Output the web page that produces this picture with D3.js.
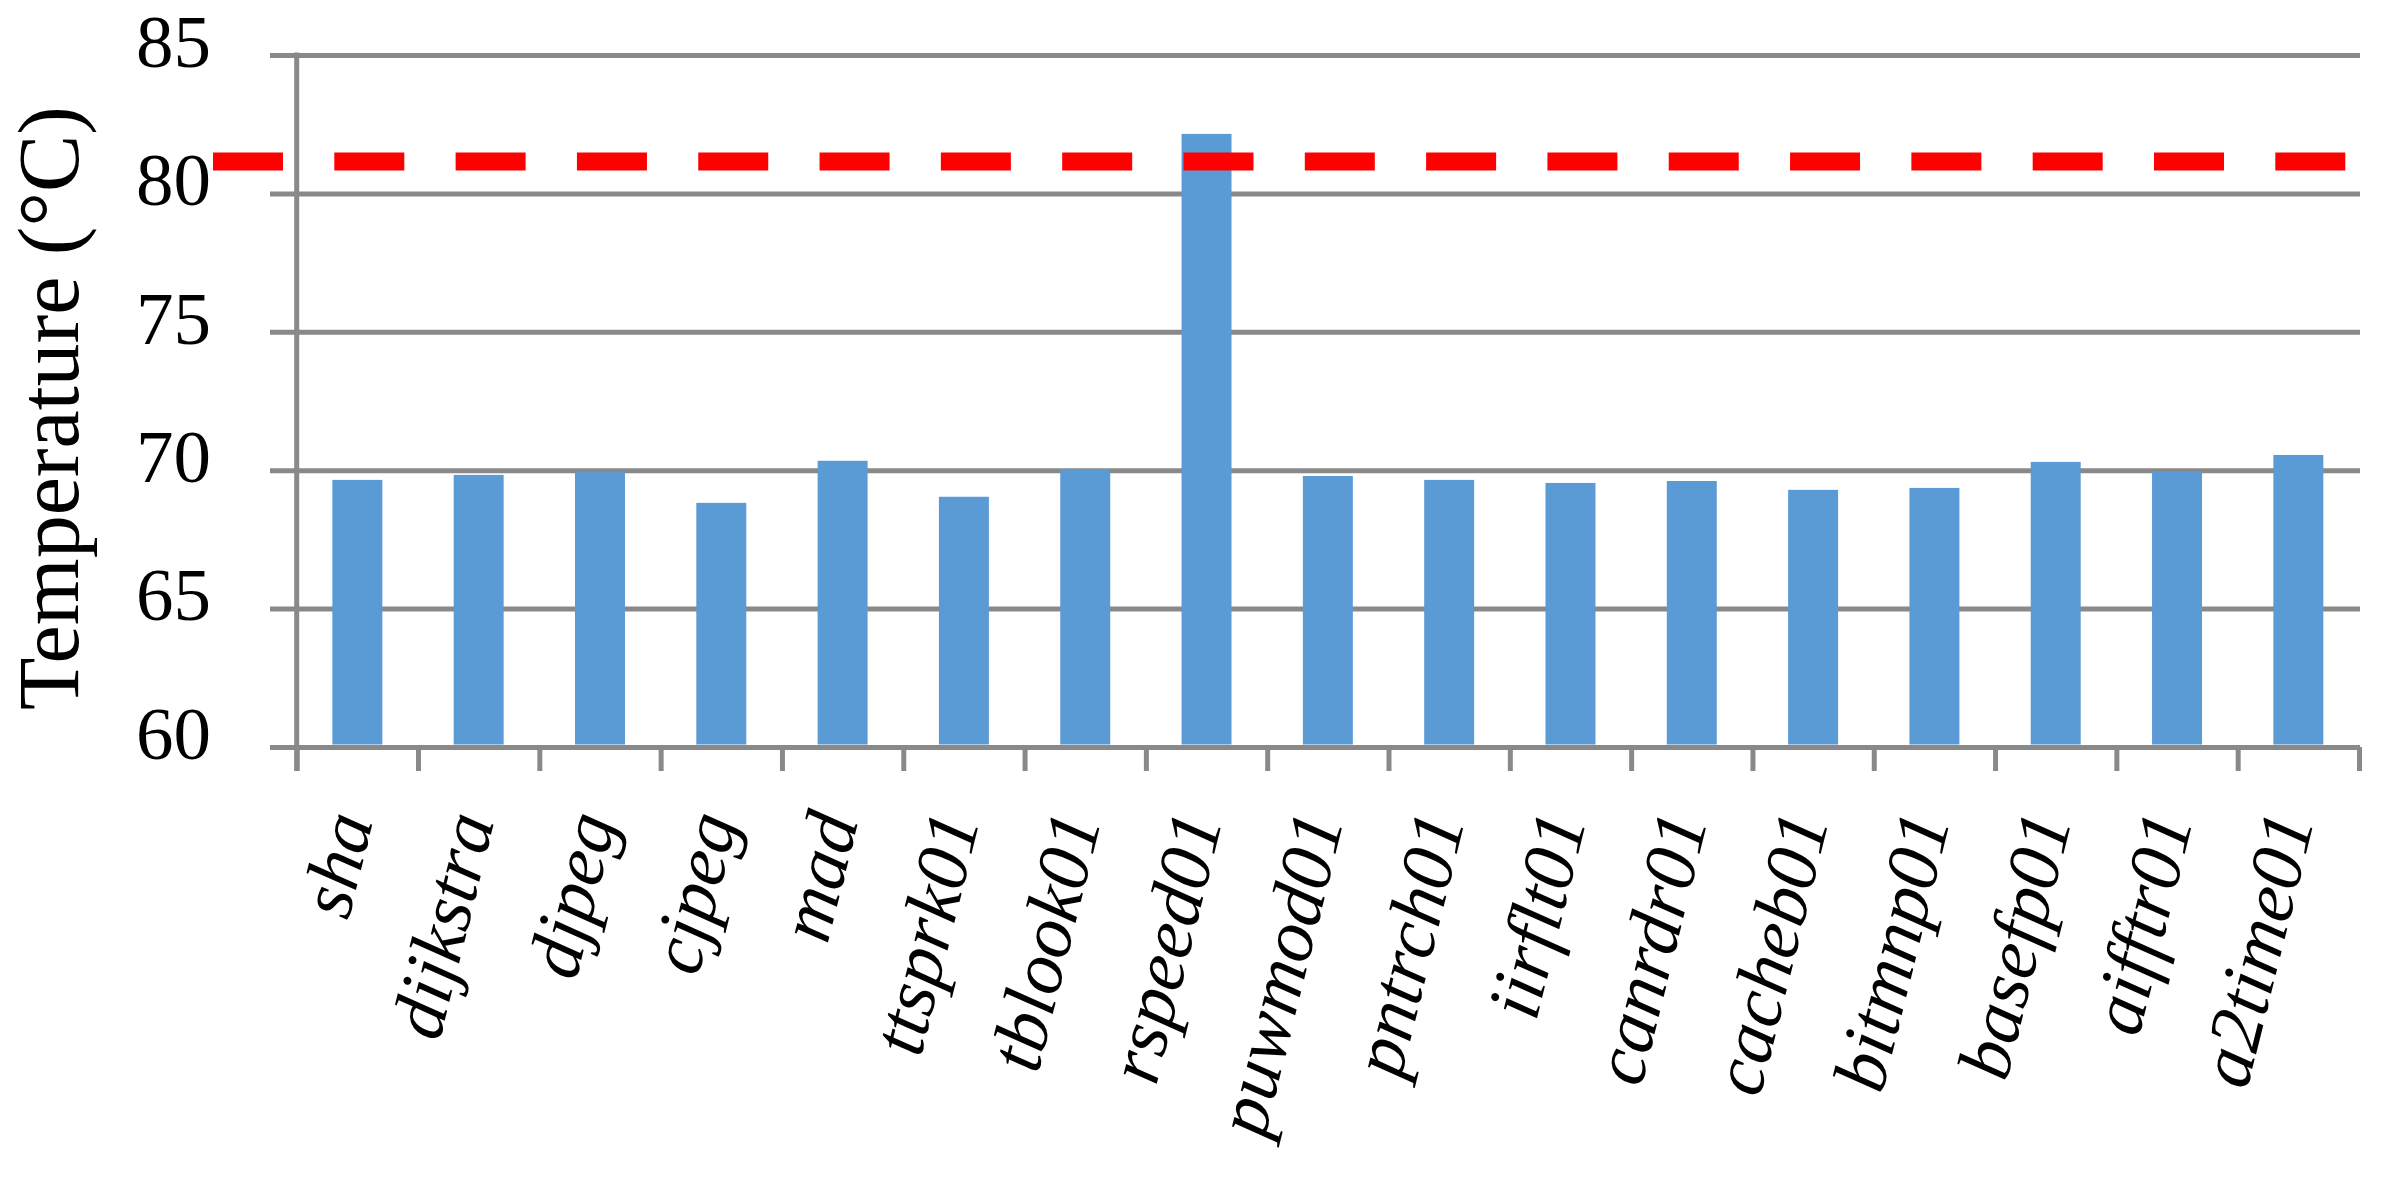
<!DOCTYPE html>
<html>
<head>
<meta charset="utf-8">
<script src="https://cdn.jsdelivr.net/npm/d3@7"></script>
<style>
    body { margin: 0; background: #ffffff; }
    text { font-family: "Liberation Serif", "Times New Roman", serif; fill: #000; font-variant-ligatures: none; }
</style>
</head>
<body>
<script>
// benchmark names (x categories):
var benchmarks = ["sha", "dijkstra", "djpeg", "cjpeg", "mad", "ttsprk01", "tblook01", "rspeed01",
    "puwmod01", "pntrch01", "iirflt01", "canrdr01", "cacheb01", "bitmnp01", "basefp01", "aifftr01", "a2time01"];

// peak temperature per benchmark (°C):
var temps = [69.65, 69.83, 69.93, 68.82, 70.34, 69.04, 70.04, 82.15,
    69.79, 69.65, 69.54, 69.61, 69.29, 69.36, 70.30, 69.96, 70.55];

// y-axis tick labels:
var yTicks = [60, 65, 70, 75, 80, 85];

// thermal limit (red dashed line):
var threshold = [81.15];

window.onload = function(){

    // SVG dimensions:
    var w = 2391, h = 1187;

    // plot edges:
    var left = 296.7, right = 2359, top = 55, bottom = 747;

    var container = d3.select("body")
        .append("svg")
        .attr("width", w)
        .attr("height", h);

    // y scale - temperature:
    var y = d3.scaleLinear()
        .domain([60, 85])
        .range([bottom, top]);

    // x scale - one band per benchmark:
    var x = d3.scaleBand()
        .domain(benchmarks)
        .range([left, right])
        .padding(0);

    // band edges for the tick marks:
    var edges = d3.scaleLinear()
        .domain([0, benchmarks.length])
        .range([left, right]);

    var gridColor = "#898989";

    // y axis w/ gridlines:
    var yAxis = d3.axisLeft(y)
        .tickValues(yTicks)
        .tickSize(-(2360 - 270))
        .tickSizeOuter(0)
        .tickPadding(59);

    var yG = container.append("g")
        .attr("class", "yaxis")
        .attr("transform", "translate(270, 0)")
        .call(yAxis);

    yG.select(".domain").remove();
    yG.selectAll("line")
        .style("stroke", gridColor)
        .style("stroke-width", 5);
    yG.selectAll("text")
        .attr("dy", "0.15em")
        .style("font-family", "Liberation Serif")
        .style("font-size", "75px");

    // vertical axis line:
    container.append("line")
        .attr("x1", left)
        .attr("x2", left)
        .attr("y1", top - 2.5)
        .attr("y2", bottom + 24)
        .style("stroke", gridColor)
        .style("stroke-width", 5);

    // x axis tick marks at band edges:
    var xAxis = d3.axisBottom(edges)
        .tickValues(d3.range(benchmarks.length + 1))
        .tickFormat("")
        .tickSize(24)
        .tickSizeOuter(0);

    var xG = container.append("g")
        .attr("class", "xaxis")
        .attr("transform", "translate(0," + bottom + ")")
        .call(xAxis);

    xG.selectAll("line, path")
        .style("stroke", gridColor)
        .style("stroke-width", 5);

    // bars:
    var barW = x.bandwidth() * 0.412;

    container.selectAll(".bar")
        .data(temps)
        .enter()
        .append("rect")
        .attr("class", "bar")
        .attr("x", function(d, i){
            return x(benchmarks[i]) + (x.bandwidth() - barW) / 2;
        })
        .attr("width", barW)
        .attr("y", function(d){
            return y(d);
        })
        .attr("height", function(d){
            return y(60) - y(d) - 2.5;
        })
        .style("fill", "#5B9BD5");

    // red dashed limit line:
    var dash = 70;
    container.selectAll(".limit")
        .data(threshold)
        .enter()
        .append("line")
        .attr("class", "limit")
        .attr("x1", 213)
        .attr("x2", 2360)
        .attr("y1", function(d){ return y(d); })
        .attr("y2", function(d){ return y(d); })
        .style("stroke", "#FF0000")
        .style("stroke-width", 18)
        .style("stroke-dasharray", dash + " " + (x.step() - dash));

    // rotated category labels:
    container.selectAll(".labels")
        .data(benchmarks)
        .enter()
        .append("text")
        .attr("class", "labels")
        .attr("text-anchor", "end")
        .attr("transform", function(d){
            return "translate(" + (x(d) + x.bandwidth() / 2 + 16) + ",820) rotate(-76)";
        })
        .style("font-style", "italic")
        .style("font-size", "75px")
        .text(function(d){ return d; });

    // y axis title:
    container.append("text")
        .attr("class", "ytitle")
        .attr("text-anchor", "middle")
        .attr("transform", "translate(78,408) rotate(-90)")
        .style("font-size", "86px")
        .text("Temperature (°C)");

};
</script>
</body>
</html>
